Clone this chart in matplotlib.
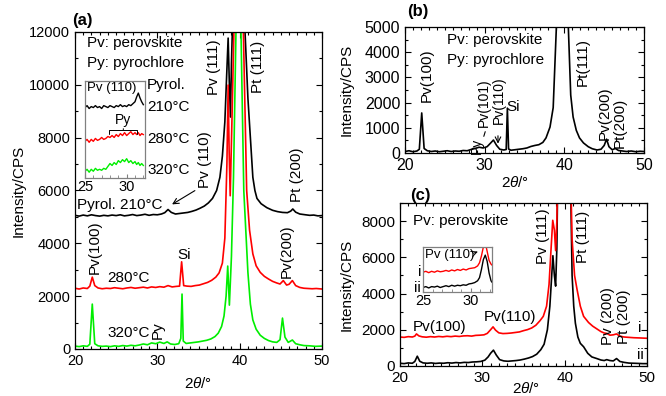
import matplotlib
matplotlib.use("Agg")
import matplotlib.pyplot as plt
from matplotlib.ticker import MultipleLocator

plt.rcParams['font.family'] = ['Liberation Sans', 'DejaVu Sans']
plt.rcParams['mathtext.fontset'] = 'custom'
plt.rcParams['mathtext.rm'] = 'Liberation Sans'
plt.rcParams['mathtext.it'] = 'Liberation Sans:italic'

# ---- panel (a): films pyrolysed at different temperatures ----
x_a210 = [20, 20.5, 21, 21.5, 22, 22.5, 23, 23.5, 24, 24.5, 25, 25.5, 26, 26.5, 27, 27.5, 28, 28.5, 29, 29.5,
          30, 30.5, 30.9, 31.3, 31.7, 32.2, 32.7, 33.2, 33.7, 34.2, 34.7, 35.2, 35.7, 36.2, 36.7, 37.2, 37.6, 37.9,
          38.2, 38.4, 38.6, 38.75, 38.88, 39.0, 39.15, 39.35, 40.45, 40.65, 41.0, 41.3, 41.6, 41.85, 42.1, 42.6,
          43.3, 44, 44.6, 45.2, 45.8, 46.2, 46.45, 46.8, 47.3, 48, 48.5, 49, 49.5, 50]
y_a210 = [5060, 5030, 5070, 5040, 5080, 5050, 5030, 5060, 5040, 5070, 5050, 5080, 5040, 5060, 5090, 5050, 5070, 5100,
          5060, 5090, 5080, 5110, 5160, 5280, 5170, 5110, 5130, 5150, 5170, 5210, 5260, 5330, 5410, 5530, 5700, 6000,
          6500, 7300, 8600, 10200, 11770, 10000, 8780, 10800, 12500, 30000, 30000, 12000, 9500, 8000, 6500, 6000,
          5700, 5500, 5350, 5250, 5200, 5170, 5160, 5220, 5300, 5180, 5110, 5080, 5060, 5070, 5040, 5050]

x_a280 = [20, 20.5, 21, 21.5, 21.8, 22.1, 22.4, 22.8, 23.3, 23.8, 24.3, 24.8, 25.3, 25.8, 26.3, 26.8, 27.3, 27.8,
          28.3, 28.8, 29.3, 29.8, 30.3, 30.8, 31.3, 31.8, 32.3, 32.7, 32.95, 33.2, 33.6, 34.1, 34.6, 35.1, 35.6, 36.1,
          36.6, 37.1, 37.5, 37.9, 38.2, 38.45, 38.6, 38.72, 38.85, 39.05, 39.3, 39.5, 40.3, 40.45, 40.85, 41.2, 41.6,
          42, 42.5, 43, 43.5, 44, 44.5, 44.9, 45.3, 45.7, 46.0, 46.4, 46.8, 47.3, 47.8, 48.3, 48.8, 49.3, 50]
y_a280 = [2300, 2270, 2310, 2290, 2380, 2720, 2400, 2310, 2280, 2300, 2290, 2320, 2300, 2280, 2310, 2330, 2300, 2320,
          2340, 2310, 2350, 2330, 2360, 2340, 2400, 2350, 2370, 2380, 3300, 2400, 2380, 2370, 2400, 2420, 2470, 2520,
          2600, 2720, 2880, 3250, 4200, 7000, 9990, 7500, 5800, 8500, 12000, 30000, 30000, 12000, 6000, 4500, 3600,
          3150, 2900, 2750, 2650, 2560, 2500, 2460, 2590, 2420, 2450, 2590, 2400, 2330, 2300, 2290, 2280, 2290, 2270]

x_a320 = [20, 20.5, 21, 21.5, 21.8, 22.1, 22.4, 22.8, 23.3, 23.8, 24.3, 24.8, 25.3, 25.8, 26.3, 26.8, 27.3, 27.8,
          28.3, 28.8, 29.3, 29.8, 30.3, 30.8, 31.2, 31.6, 32.1, 32.6, 32.85, 33.0, 33.15, 33.5, 34, 34.5, 35, 35.5,
          36, 36.5, 37, 37.4, 37.8, 38.1, 38.35, 38.55, 38.75, 39.0, 39.25, 39.55, 39.7, 40.0, 40.16, 40.5, 41.0,
          41.3, 41.6, 42.0, 42.5, 43, 43.5, 44, 44.5, 44.9, 45.2, 45.5, 45.9, 46.4, 46.8, 47.3, 47.8, 48.5, 49.2, 50]
y_a320 = [110, 90, 120, 100, 180, 1700, 200, 120, 100, 110, 90, 120, 100, 130, 110, 140, 120, 150, 190, 160, 230,
          200, 260, 210, 270, 190, 170, 200, 400, 2080, 300, 210, 230, 250, 270, 300, 330, 380, 470, 600, 850, 1250,
          2000, 3140, 1660, 3500, 6500, 12000, 30000, 30000, 12000, 6000, 2900, 1700, 1100, 750, 520, 400, 320, 270,
          250, 350, 1170, 450, 250, 340, 200, 160, 130, 120, 100, 110]

# inset of (a): 25-32 deg region, offset traces (arbitrary units)
x_ins_a = [25.0, 25.25, 25.5, 25.75, 26.0, 26.25, 26.5, 26.75, 27.0, 27.25, 27.5, 27.75, 28.0, 28.25, 28.5, 28.75,
           29.0, 29.25, 29.5, 29.75, 30.0, 30.25, 30.5, 30.75, 31.0, 31.2, 31.4, 31.6, 31.8, 32.0]
ins_a210 = [0.73, 0.75, 0.72, 0.74, 0.73, 0.75, 0.73, 0.74, 0.72, 0.75, 0.74, 0.73, 0.75, 0.74, 0.73, 0.75, 0.74,
            0.76, 0.74, 0.75, 0.74, 0.76, 0.75, 0.77, 0.79, 0.84, 0.88, 0.83, 0.79, 0.76]
ins_a280 = [0.38, 0.40, 0.37, 0.40, 0.38, 0.41, 0.39, 0.40, 0.42, 0.40, 0.41, 0.43, 0.42, 0.44, 0.42, 0.45, 0.43,
            0.46, 0.44, 0.47, 0.44, 0.46, 0.48, 0.45, 0.47, 0.45, 0.47, 0.44, 0.46, 0.45]
ins_a320 = [0.07, 0.09, 0.06, 0.09, 0.07, 0.10, 0.08, 0.09, 0.08, 0.10, 0.09, 0.12, 0.15, 0.13, 0.16, 0.14, 0.18,
            0.16, 0.19, 0.17, 0.20, 0.16, 0.18, 0.15, 0.17, 0.14, 0.16, 0.13, 0.15, 0.13]

# ---- panel (b) ----
x_b = [20, 20.5, 21, 21.5, 21.8, 22.1, 22.4, 22.8, 23.3, 23.8, 24.3, 24.8, 25.3, 25.8, 26.3, 26.8, 27.3, 27.8, 28.3,
       28.8, 29.3, 29.8, 30.3, 30.7, 31.1, 31.5, 31.9, 32.4, 32.7, 32.85, 33.0, 33.3, 33.8, 34.3, 34.8, 35.3, 35.8,
       36.3, 36.8, 37.3, 37.7, 38.2, 38.6, 39.0, 39.3, 40.3, 40.5, 40.8, 41.1, 41.5, 41.9, 42.4, 43, 43.5, 44.1,
       44.6, 45.0, 45.3, 45.6, 46.0, 46.4, 46.8, 47.3, 47.8, 48.4, 49, 49.5, 50]
y_b = [60, 90, 50, 80, 150, 1590, 180, 90, 60, 80, 50, 70, 90, 60, 80, 70, 100, 90, 140, 180, 230, 200, 250, 380,
       515, 300, 150, 120, 140, 1780, 160, 110, 130, 150, 170, 200, 260, 300, 330, 420, 600, 1030, 1800, 5000,
       20000, 20000, 5000, 2300, 1430, 900, 600, 400, 250, 170, 120, 150, 300, 550, 250, 130, 180, 100, 80, 60, 80,
       50, 70, 60]

# ---- panel (c) ----
x_ci = [20, 20.5, 21, 21.5, 21.8, 22.0, 22.3, 22.7, 23.2, 23.7, 24.2, 24.7, 25.2, 25.7, 26.2, 26.7, 27.2, 27.7, 28.2,
        28.7, 29.2, 29.7, 30.2, 30.6, 31.0, 31.3, 31.6, 32.0, 32.5, 33.0, 33.5, 34.0, 34.5, 35.0, 35.5, 36.0, 36.5,
        37.0, 37.4, 37.8, 38.1, 38.35, 38.55, 38.75, 38.9, 39.05, 39.2, 39.4, 40.45, 40.65, 40.9, 41.2, 41.5, 41.9,
        42.3, 42.9, 43.4, 43.9, 44.4, 44.8, 45.1, 45.5, 45.9, 46.3, 46.7, 47.2, 47.8, 48.4, 49, 49.5, 50]
y_ci = [1600, 1580, 1620, 1600, 1650, 1770, 1660, 1610, 1590, 1620, 1600, 1630, 1610, 1640, 1620, 1650, 1630, 1660,
        1670, 1650, 1690, 1700, 1720, 1800, 2000, 2160, 1980, 1830, 1790, 1800, 1820, 1850, 1880, 1950, 2010, 2100,
        2250, 2500, 2740, 3300, 4500, 6500, 8045, 7500, 6370, 8000, 12000, 30000, 30000, 12000, 7000, 5000, 4230,
        3300, 2740, 2400, 2200, 2050, 1900, 1820, 1800, 1700, 1720, 1770, 1650, 1600, 1580, 1560, 1550, 1540, 1530]

x_cii = [20, 20.5, 21, 21.5, 21.8, 22.1, 22.4, 22.8, 23.3, 23.8, 24.3, 24.8, 25.3, 25.8, 26.3, 26.8, 27.3, 27.8, 28.3,
         28.8, 29.3, 29.8, 30.3, 30.7, 31.0, 31.35, 31.7, 32.1, 32.6, 33.1, 33.6, 34.1, 34.6, 35.1, 35.6, 36.1, 36.6,
         37.1, 37.5, 37.9, 38.2, 38.4, 38.57, 38.75, 38.9, 39.05, 39.2, 39.4, 40.45, 40.65, 40.9, 41.1, 41.3, 41.6,
         41.9, 42.3, 42.8, 43.3, 43.9, 44.4, 44.8, 45.1, 45.5, 45.9, 46.3, 46.7, 47.2, 47.8, 48.4, 49, 49.5, 50]
y_cii = [150, 130, 170, 150, 250, 540, 260, 170, 150, 170, 140, 160, 150, 180, 160, 190, 170, 200, 190, 220, 230, 250,
         320, 500, 700, 875, 600, 350, 280, 260, 280, 300, 330, 380, 440, 520, 650, 900, 1200, 2000, 3300, 4800, 6090,
         5000, 4410, 6500, 12000, 30000, 30000, 12000, 5000, 3300, 2360, 1600, 1250, 1060, 700, 500, 410, 330, 300,
         350, 300, 280, 410, 250, 200, 160, 150, 140, 130, 130]

x_ins_c = [25.0, 25.3, 25.6, 25.9, 26.2, 26.5, 26.8, 27.1, 27.4, 27.7, 28.0, 28.3, 28.6, 28.9, 29.2, 29.5, 29.8,
           30.1, 30.4, 30.7, 30.9, 31.1, 31.3, 31.5, 31.7, 31.9, 32.1, 32.2]
ins_ci = [0.44, 0.46, 0.43, 0.46, 0.44, 0.47, 0.45, 0.46, 0.48, 0.46, 0.49, 0.47, 0.50, 0.48, 0.51, 0.49, 0.52, 0.53,
          0.54, 0.58, 0.65, 0.80, 1.0, 1.1, 0.9, 0.70, 0.62, 0.60]
ins_cii = [0.10, 0.12, 0.09, 0.12, 0.11, 0.13, 0.10, 0.12, 0.14, 0.12, 0.15, 0.13, 0.15, 0.14, 0.16, 0.15, 0.18,
           0.19, 0.21, 0.25, 0.32, 0.50, 0.72, 0.82, 0.68, 0.42, 0.25, 0.22]

RED = '#ff0000'
GREEN = '#00ee00'
FS = 11


def style(ax, ymaj, ymin, tfs=10.5):
    ax.set_xlim(20, 50)
    ax.xaxis.set_major_locator(MultipleLocator(10))
    ax.xaxis.set_minor_locator(MultipleLocator(1))
    ax.yaxis.set_major_locator(MultipleLocator(ymaj))
    ax.yaxis.set_minor_locator(MultipleLocator(ymin))
    ax.tick_params(which='both', direction='in', top=True, right=True, labelsize=tfs, width=0.8)
    ax.tick_params(which='major', length=4)
    ax.tick_params(which='minor', length=2.5)
    for s in ax.spines.values():
        s.set_linewidth(0.9)


def style_inset(ax):
    ax.set_xlim(25, 32.2)
    ax.set_ylim(0, 1)
    ax.xaxis.set_major_locator(MultipleLocator(5))
    ax.xaxis.set_minor_locator(MultipleLocator(1))
    ax.set_yticks([])
    ax.tick_params(which='both', direction='in', labelsize=10.5, pad=1.5, colors='#808080', labelcolor='black')
    ax.tick_params(which='major', length=3)
    ax.tick_params(which='minor', length=2)
    for s in ax.spines.values():
        s.set_color('#808080')
        s.set_linewidth(0.9)


fig = plt.figure(figsize=(6.66, 3.96), dpi=100)

# ================= (a) =================
ax = fig.add_axes([0.1126, 0.1187, 0.3709, 0.8005])
ax.plot(x_a210, y_a210, color='black', lw=1.2)
ax.plot(x_a280, y_a280, color=RED, lw=1.2)
ax.plot(x_a320, y_a320, color=GREEN, lw=1.2)
ax.set_ylim(0, 12000)
style(ax, 2000, 1000)
ax.set_xlabel('2$\\it{\\theta}$/°', fontsize=FS)
ax.set_ylabel('Intensity/CPS', fontsize=FS)
ax.xaxis.set_label_coords(0.5, -0.085)
ax.yaxis.set_label_coords(-0.2, 0.5)

ax.text(19.6, 12450, '(a)', fontsize=12, fontweight='bold', ha='left', va='center', clip_on=False)
ax.text(21.46, 11580, 'Pv: perovskite', fontsize=FS, va='center')
ax.text(21.46, 10830, 'Py: pyrochlore', fontsize=FS, va='center')
ax.text(28.75, 9990, 'Pyrol.', fontsize=FS, va='center')
ax.text(28.75, 9160, '210°C', fontsize=FS, va='center')
ax.text(28.75, 7950, '280°C', fontsize=FS, va='center')
ax.text(28.75, 6780, '320°C', fontsize=FS, va='center')
ax.text(36.88, 10675, 'Pv (111)', fontsize=FS, rotation=90, ha='center', va='center')
ax.text(42.23, 10675, 'Pt (111)', fontsize=FS, rotation=90, ha='center', va='center')
ax.text(35.79, 7155, 'Pv (110)', fontsize=FS, rotation=90, ha='center', va='center')
ax.annotate('', xy=(31.5, 5420), xytext=(34.85, 6050),
            arrowprops=dict(arrowstyle='->', lw=0.8, color='black'))
ax.text(46.96, 6587, 'Pt (200)', fontsize=FS, rotation=90, ha='center', va='center')
ax.text(20.24, 5451, 'Pyrol. 210°C', fontsize=FS, va='center')
ax.text(22.43, 3861, 'Pv(100)', fontsize=FS, rotation=90, ha='center', va='center')
ax.text(23.89, 2688, '280°C', fontsize=FS, va='center')
ax.text(33.24, 3558, 'Si', fontsize=FS, ha='center', va='center')
ax.text(45.75, 3710, 'Pv(200)', fontsize=FS, rotation=90, ha='center', va='center')
ax.text(23.89, 606, '320°C', fontsize=FS, va='center')
ax.text(30.08, 719, 'Py', fontsize=FS, rotation=90, ha='center', va='center')

axi = fig.add_axes([0.1276, 0.5505, 0.0901, 0.2437])
axi.plot(x_ins_a, ins_a210, color='black', lw=1.0)
axi.plot(x_ins_a, ins_a280, color=RED, lw=1.0)
axi.plot(x_ins_a, ins_a320, color=GREEN, lw=1.0)
style_inset(axi)
axi.text(25.3, 0.93, 'Pv (110)', fontsize=9.5, va='center')
axi.text(29.6, 0.6, 'Py', fontsize=10, ha='center', va='center')
axi.annotate('', xy=(29.6, 0.5), xytext=(29.6, 0.54),
             arrowprops=dict(arrowstyle='-[, widthB=1.0, lengthB=0.3', lw=0.7, color='black'))

# ================= (b) =================
bx = fig.add_axes([0.6081, 0.6136, 0.3589, 0.3182])
bx.plot(x_b, y_b, color='black', lw=1.2)
bx.set_ylim(0, 5000)
style(bx, 1000, 500, tfs=11.5)
bx.set_xlabel('2$\\it{\\theta}$/°', fontsize=FS)
bx.set_ylabel('Intensity/CPS', fontsize=FS)
bx.xaxis.set_label_coords(0.46, -0.175)
bx.yaxis.set_label_coords(-0.213, 0.5)
bx.text(20.25, 5635, '(b)', fontsize=12, fontweight='bold', ha='left', va='center', clip_on=False)
bx.text(25.27, 4484, 'Pv: perovskite', fontsize=FS, va='center')
bx.text(25.27, 3690, 'Py: pyrochlore', fontsize=FS, va='center')
bx.text(22.76, 3095, 'Pv(100)', fontsize=FS, rotation=90, ha='center', va='center')
bx.text(29.04, 300, 'Py', fontsize=10, rotation=90, ha='center', va='center')
bx.annotate('', xy=(30.17, 952), xytext=(29.79, 556),
            arrowprops=dict(arrowstyle='-', lw=0.8, color='black'))
bx.text(29.95, 1984, 'Pv(101)', fontsize=10, rotation=90, ha='center', va='center')
bx.text(31.75, 2103, 'Pv(110)', fontsize=10, rotation=90, ha='center', va='center')
bx.annotate('', xy=(31.67, 260), xytext=(31.67, 794),
            arrowprops=dict(arrowstyle='->', lw=0.8, color='black'))
bx.text(33.56, 1825, 'Si', fontsize=FS, ha='center', va='center')
bx.text(42.34, 3611, 'Pt(111)', fontsize=FS, rotation=90, ha='center', va='center')
bx.text(45.1, 1587, 'Pv(200)', fontsize=FS, rotation=90, ha='center', va='center')
bx.text(46.99, 1190, 'Pt(200)', fontsize=FS, rotation=90, ha='center', va='center')

# ================= (c) =================
cx = fig.add_axes([0.6006, 0.0758, 0.3709, 0.4116])
cx.plot(x_cii, y_cii, color='black', lw=1.2)
cx.plot(x_ci, y_ci, color=RED, lw=1.2)
cx.set_ylim(0, 9000)
style(cx, 2000, 1000, tfs=11)
cx.set_xlabel('2$\\it{\\theta}$/°', fontsize=FS)
cx.set_ylabel('Intensity/CPS', fontsize=FS)
cx.xaxis.set_label_coords(0.51, -0.092)
cx.yaxis.set_label_coords(-0.186, 0.5)
cx.text(21.2, 9440, '(c)', fontsize=12, fontweight='bold', ha='left', va='center', clip_on=False)
cx.text(21.58, 7990, 'Pv: perovskite', fontsize=FS, va='center')
cx.text(37.37, 7151, 'Pv (111)', fontsize=FS, rotation=90, ha='center', va='center')
cx.text(42.23, 7151, 'Pt (111)', fontsize=FS, rotation=90, ha='center', va='center')
cx.text(24.86, 2179, 'Pv(100)', fontsize=FS, ha='center', va='center')
cx.text(33.36, 2682, 'Pv(110)', fontsize=FS, ha='center', va='center')
cx.text(45.26, 2738, 'Pv (200)', fontsize=FS, rotation=90, ha='center', va='center')
cx.text(47.2, 2738, 'Pt (200)', fontsize=FS, rotation=90, ha='center', va='center')
cx.text(49.15, 2123, 'i', fontsize=FS, ha='center', va='center')
cx.text(49.15, 615, 'ii', fontsize=FS, ha='center', va='center')

cxi = fig.add_axes([0.6351, 0.2626, 0.1036, 0.1136])
cxi.plot(x_ins_c, ins_cii, color='black', lw=1.0)
cxi.plot(x_ins_c, ins_ci, color=RED, lw=1.0)
style_inset(cxi)
cxi.text(25.2, 0.82, 'Pv (110)', fontsize=9.5, va='center')
cxi.annotate('', xy=(31.0, 0.92), xytext=(30.0, 0.84),
             arrowprops=dict(arrowstyle='->', lw=0.7, color='black'))
cxi.text(-0.03, 0.44, 'i', fontsize=FS, ha='right', va='center', transform=cxi.transAxes)
cxi.text(-0.03, 0.1, 'ii', fontsize=FS, ha='right', va='center', transform=cxi.transAxes)

fig.savefig('out.png', dpi=100)
